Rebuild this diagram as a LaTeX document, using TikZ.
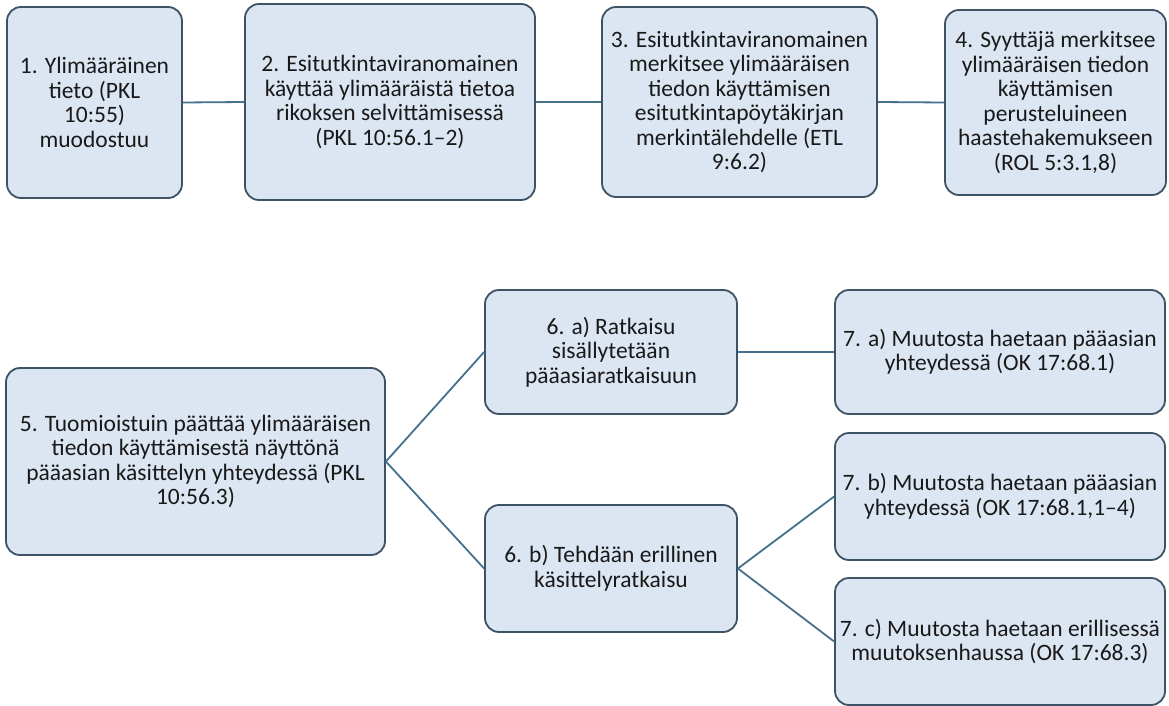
\documentclass[tikz,border=0pt]{standalone}
\usepackage{fontspec}
\setmainfont{Carlito}
\definecolor{boxfill}{HTML}{DCE6F2}
\definecolor{boxdraw}{HTML}{3E5266}
\definecolor{linkcol}{HTML}{46718C}
\begin{document}
\begin{tikzpicture}[x=1pt,y=-1pt,
  box/.style={draw=boxdraw, fill=boxfill, line width=1.8pt, rounded corners=14pt,
    inner sep=0pt, align=center, text=black!90,
    font=\fontsize{23.5}{24.5}\selectfont},
  link/.style={draw=linkcol, line width=1.8pt}]
\useasboundingbox (0,0) rectangle (1169,706);
\fill[white] (0,0) rectangle (1169,706);
% top row
\node[box, minimum width=175pt, minimum height=191pt] (n1) at (94.5,102.5)
  {1. Ylimääräinen\\tieto (PKL\\10:55)\\muodostuu};
\node[box, minimum width=290pt, minimum height=196pt] (n2) at (390,102)
  {2. Esitutkintaviranomainen\\käyttää ylimääräistä tietoa\\rikoksen selvittämisessä\\(PKL 10:56.1–2)};
\node[box, minimum width=275pt, minimum height=190pt] (n3) at (739.5,102)
  {3. Esitutkintaviranomainen\\merkitsee ylimääräisen\\tiedon käyttämisen\\esitutkintapöytäkirjan\\merkintälehdelle (ETL\\9:6.2)};
\node[box, minimum width=221pt, minimum height=185pt] (n4) at (1055.5,102.5)
  {4. Syyttäjä merkitsee\\ylimääräisen tiedon\\käyttämisen\\perusteluineen\\haastehakemukseen\\(ROL 5:3.1,8)};
% bottom part
\node[box, minimum width=379pt, minimum height=187pt] (n5) at (195.5,461.5)
  {5. Tuomioistuin päättää ylimääräisen\\tiedon käyttämisestä näyttönä\\pääasian käsittelyn yhteydessä (PKL\\10:56.3)};
\node[box, minimum width=252pt, minimum height=124pt] (n6a) at (611,352)
  {6. a) Ratkaisu\\sisällytetään\\pääasiaratkaisuun};
\node[box, minimum width=252pt, minimum height=127pt] (n6b) at (611,568.5)
  {6. b) Tehdään erillinen\\käsittelyratkaisu};
\node[box, minimum width=330pt, minimum height=124pt] (n7a) at (1000,352)
  {7. a) Muutosta haetaan pääasian\\yhteydessä (OK 17:68.1)};
\node[box, minimum width=330pt, minimum height=127pt] (n7b) at (1000,496.5)
  {7. b) Muutosta haetaan pääasian\\yhteydessä (OK 17:68.1,1–4)};
\node[box, minimum width=330pt, minimum height=127pt] (n7c) at (1000,641.5)
  {7. c) Muutosta haetaan erillisessä\\muutoksenhaussa (OK 17:68.3)};
% connectors
\draw[link] (n1.east) -- (n2.west);
\draw[link] (n2.east) -- (n3.west);
\draw[link] (n3.east) -- (n4.west);
\draw[link] (n5.east) -- (n6a.west);
\draw[link] (n5.east) -- (n6b.west);
\draw[link] (n6a.east) -- (n7a.west);
\draw[link] (n6b.east) -- (n7b.west);
\draw[link] (n6b.east) -- (n7c.west);
\end{tikzpicture}
\end{document}
